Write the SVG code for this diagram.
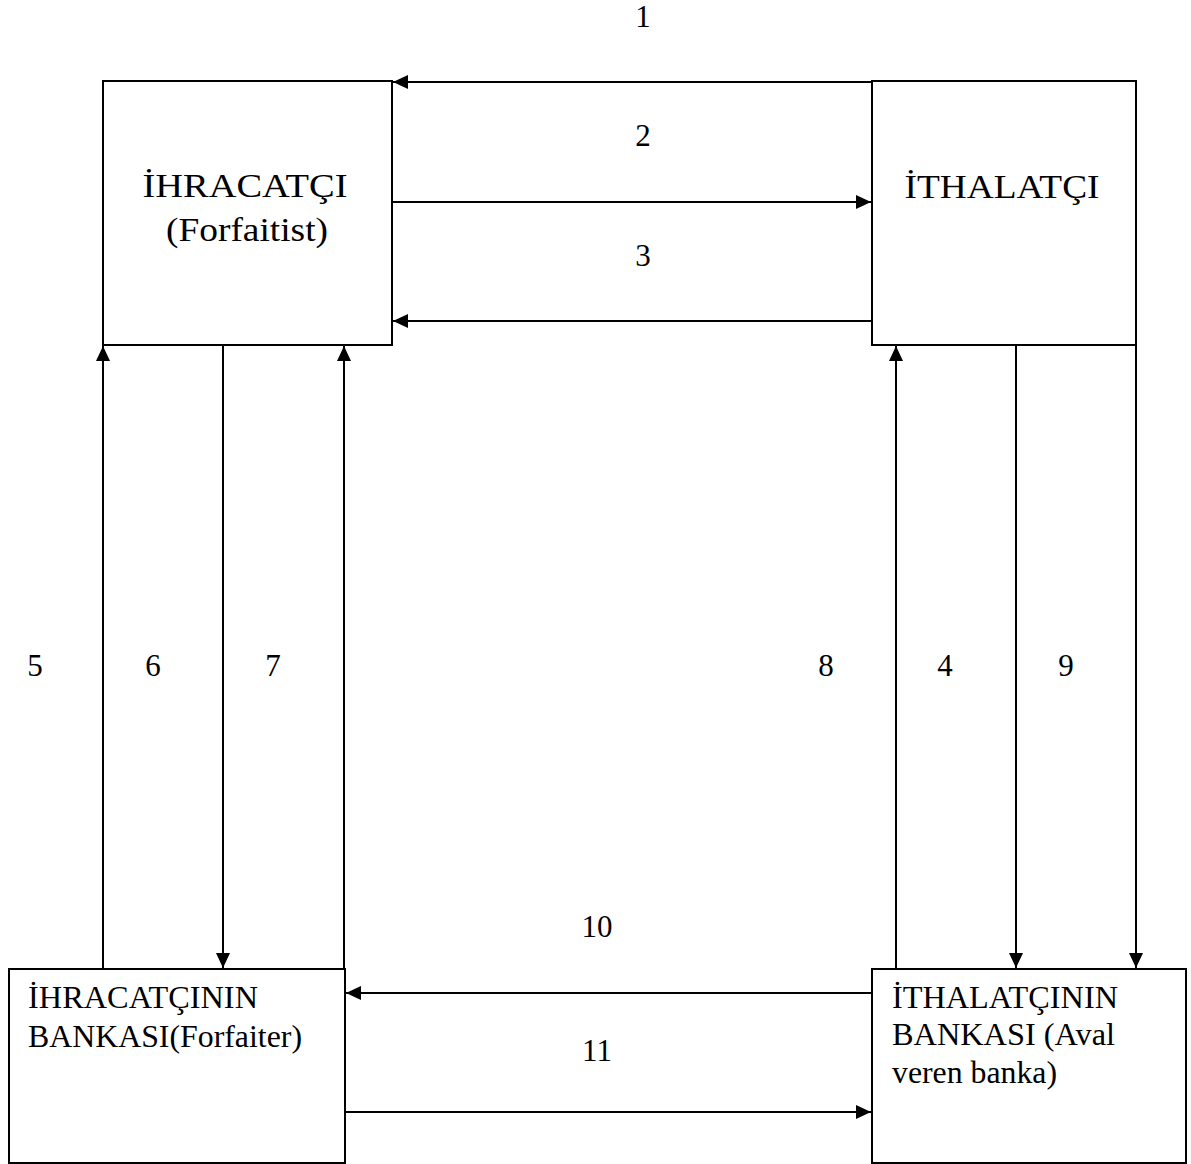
<svg xmlns="http://www.w3.org/2000/svg" width="1191" height="1164" viewBox="0 0 1191 1164">
<style>
.box{fill:#fff;stroke:#000;stroke-width:2}
.ln{stroke:#000;stroke-width:2;fill:none}
text{font-family:'Liberation Serif','Times New Roman','DejaVu Serif',serif;fill:#000}
.big{font-size:33px}
.sm{font-size:31px}
.num{font-size:31px;text-anchor:middle}
</style>
<defs>
<marker id="ah" markerUnits="userSpaceOnUse" markerWidth="16" markerHeight="14" viewBox="0 0 16 14" refX="15" refY="7" orient="auto">
<path d="M0,0 L15,7 L0,14 z" fill="#000"/>
</marker>
</defs>
<rect width="1191" height="1164" fill="#fff"/>
<g id="ihracatci">
<rect class="box" x="103" y="81" width="289" height="264"/>
<text class="big" x="245" y="197" text-anchor="middle" textLength="205" lengthAdjust="spacingAndGlyphs">İHRACATÇI</text>
<text class="big" x="247" y="241" text-anchor="middle" textLength="162" lengthAdjust="spacingAndGlyphs">(Forfaitist)</text>
</g>
<g id="ithalatci">
<rect class="box" x="872" y="81" width="264" height="264"/>
<text class="big" x="1002" y="198" text-anchor="middle" textLength="195" lengthAdjust="spacingAndGlyphs">İTHALATÇI</text>
</g>
<g id="ihracatcinin-bankasi">
<rect class="box" x="9" y="969" width="336" height="194"/>
<text class="sm" x="28" y="1008" textLength="230" lengthAdjust="spacingAndGlyphs">İHRACATÇININ</text>
<text class="sm" x="28" y="1047" textLength="274" lengthAdjust="spacingAndGlyphs">BANKASI(Forfaiter)</text>
</g>
<g id="ithalatcinin-bankasi">
<rect class="box" x="872" y="969" width="314" height="194"/>
<text class="sm" x="892" y="1008" textLength="226" lengthAdjust="spacingAndGlyphs">İTHALATÇININ</text>
<text class="sm" x="892" y="1045" textLength="223" lengthAdjust="spacingAndGlyphs">BANKASI (Aval</text>
<text class="sm" x="892" y="1083" textLength="165" lengthAdjust="spacingAndGlyphs">veren banka)</text>
</g>
<g id="connectors">
<line class="ln" x1="872" y1="82" x2="393" y2="82" marker-end="url(#ah)"/>
<line class="ln" x1="392" y1="202" x2="871" y2="202" marker-end="url(#ah)"/>
<line class="ln" x1="872" y1="321" x2="393" y2="321" marker-end="url(#ah)"/>
<line class="ln" x1="103" y1="969" x2="103" y2="346" marker-end="url(#ah)"/>
<line class="ln" x1="223" y1="345" x2="223" y2="968" marker-end="url(#ah)"/>
<line class="ln" x1="344" y1="969" x2="344" y2="346" marker-end="url(#ah)"/>
<line class="ln" x1="896" y1="969" x2="896" y2="346" marker-end="url(#ah)"/>
<line class="ln" x1="1016" y1="345" x2="1016" y2="968" marker-end="url(#ah)"/>
<line class="ln" x1="1136" y1="345" x2="1136" y2="968" marker-end="url(#ah)"/>
<line class="ln" x1="872" y1="993" x2="346" y2="993" marker-end="url(#ah)"/>
<line class="ln" x1="345" y1="1112" x2="871" y2="1112" marker-end="url(#ah)"/>
<text class="num" x="643" y="27">1</text>
<text class="num" x="643" y="146">2</text>
<text class="num" x="643" y="266">3</text>
<text class="num" x="35" y="676">5</text>
<text class="num" x="153" y="676">6</text>
<text class="num" x="273" y="676">7</text>
<text class="num" x="826" y="676">8</text>
<text class="num" x="945" y="676">4</text>
<text class="num" x="1066" y="676">9</text>
<text class="num" x="597" y="937">10</text>
<text class="num" x="597" y="1061">11</text>
</g>
</svg>
